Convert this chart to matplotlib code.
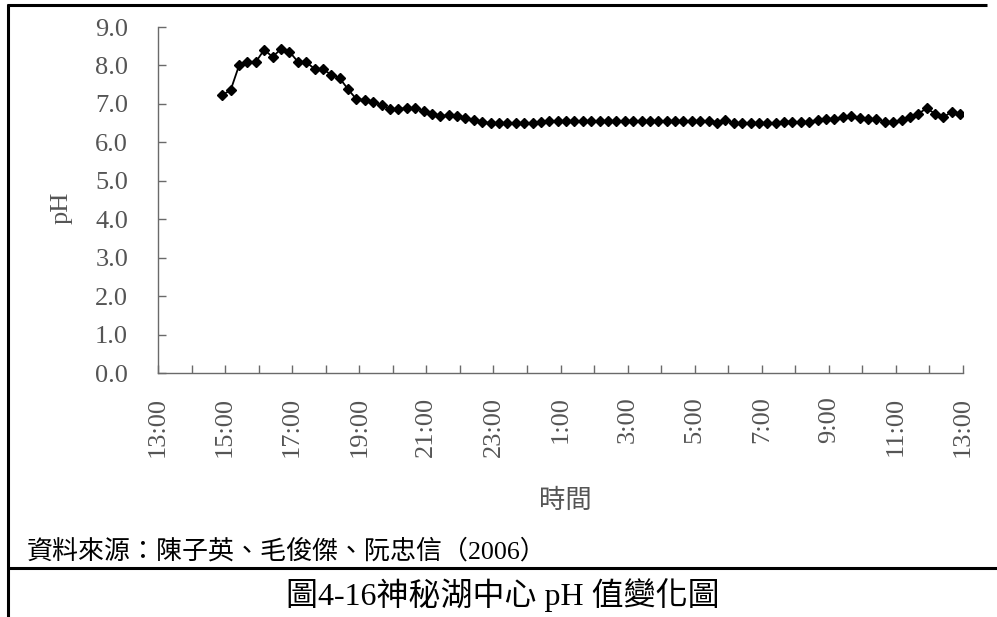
import matplotlib
matplotlib.use("Agg")
import matplotlib.pyplot as plt
from matplotlib.lines import Line2D
import numpy as np

# ---------------- data ----------------
start_hour = 14 + 55 / 60      # first reading (~14:55)
step_hour = 0.25               # 15-minute readings
ph_values = [
    7.23, 7.36, 8.00, 8.10, 8.09, 8.41, 8.22, 8.43, 8.36, 8.10,
    8.09, 7.91, 7.90, 7.76, 7.67, 7.38, 7.12, 7.10, 7.04, 6.97,
    6.87, 6.87, 6.89, 6.89, 6.82, 6.74, 6.69, 6.70, 6.69, 6.62,
    6.57, 6.53, 6.50, 6.50, 6.50, 6.50, 6.50, 6.50, 6.52, 6.55,
    6.55, 6.55, 6.55, 6.55, 6.55, 6.55, 6.55, 6.55, 6.55, 6.55,
    6.55, 6.55, 6.55, 6.55, 6.55, 6.55, 6.55, 6.55, 6.55, 6.50,
    6.58, 6.50, 6.50, 6.50, 6.50, 6.50, 6.50, 6.54, 6.54, 6.52,
    6.54, 6.58, 6.60, 6.60, 6.65, 6.69, 6.63, 6.60, 6.60, 6.54,
    6.52, 6.58, 6.67, 6.74, 6.89, 6.74, 6.65, 6.80, 6.74,
]
hour_ticks = list(range(13, 38))            # 13:00 .. 13:00 next day
label_hours = list(range(13, 38, 2))
x_labels = [f"{h % 24}:00" for h in label_hours]
y_ticks = [0.0, 1.0, 2.0, 3.0, 4.0, 5.0, 6.0, 7.0, 8.0, 9.0]
y_title = "pH"
x_title = "時間"
source_text = "資料來源：陳子英、毛俊傑、阮忠信（2006）"
caption_text = "圖4-16神秘湖中心 pH 值變化圖"

# ---------------- figure ----------------
W, H = 997, 617
fig = plt.figure(figsize=(W / 100, H / 100), dpi=100)
fig.patch.set_facecolor("white")

def fx(px):
    return px / W

def fy(py):
    return 1 - py / H

ax_l, ax_r, ax_t, ax_b = 158, 963, 27, 373
ax = fig.add_axes([fx(ax_l), fy(ax_b), (ax_r - ax_l) / W, (ax_b - ax_t) / H])

times = start_hour + step_hour * np.arange(len(ph_values))
ax.plot(times, ph_values, color="black", lw=1.3, marker="D", markersize=4.8,
        markerfacecolor="black", markeredgecolor="black")

ax.set_xlim(13, 37)
ax.set_ylim(0, 9)

serif = ["Liberation Serif", "DejaVu Serif"]
cjk = ["Liberation Serif", "Noto Sans CJK TC"]
tick_color = "#555555"
axis_color = "#6a6a6a"

ax.set_yticks(y_ticks)
ax.set_yticklabels([f"{v:.1f}" for v in y_ticks], family=serif, fontsize=19, color=tick_color)
ax.set_xticks(hour_ticks, minor=True)
ax.set_xticks(label_hours)
ax.set_xticklabels(x_labels, rotation=90, family=serif, fontsize=19, color=tick_color)

ax.tick_params(axis="y", direction="in", length=6, width=1, color=axis_color, pad=21.5)
ax.tick_params(axis="x", which="both", direction="in", length=6, width=1, color=axis_color, pad=17)

for s in ["top", "right"]:
    ax.spines[s].set_visible(False)
for s in ["left", "bottom"]:
    ax.spines[s].set_color(axis_color)
    ax.spines[s].set_linewidth(1.0)

fig.text(fx(62), fy(208), y_title, rotation=90, family=serif, fontsize=19,
         color=tick_color, ha="center", va="center")
fig.text(fx(565), fy(500), x_title, family=["Noto Sans CJK TC"], fontsize=19,
         color=tick_color, ha="center", va="center")

fig.text(fx(27), fy(551), source_text, family=cjk,
         fontsize=18.7, color="black", ha="left", va="center")
fig.text(fx(503), fy(595), caption_text, family=cjk,
         fontsize=23, color="black", ha="center", va="center")

# frame lines (pixel coordinates)
border_kw = dict(color="black", lw=2.2, transform=fig.transFigure, solid_capstyle="butt")
fig.add_artist(Line2D([fx(8), fx(8)], [fy(4), fy(H)], **border_kw))
fig.add_artist(Line2D([fx(7), fx(987)], [fy(5), fy(5)], **border_kw))
fig.add_artist(Line2D([fx(7), fx(W)], [fy(568), fy(568)], **border_kw))

fig.savefig("out.png", dpi=100)
